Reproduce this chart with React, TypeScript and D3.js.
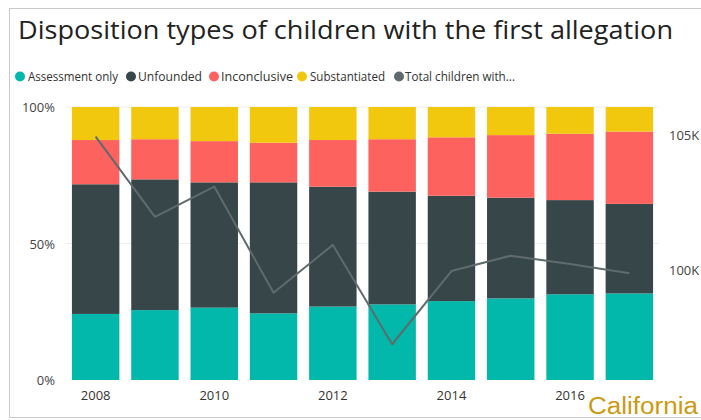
import React from "react";
import * as d3 from "d3";

const years = ["2008", "2009", "2010", "2011", "2012", "2013", "2014", "2015", "2016", "2017"];
const assessmentOnly = [24.2, 25.6, 26.5, 24.4, 26.9, 27.7, 28.9, 29.9, 31.4, 31.7];
const unfounded = [47.5, 47.9, 45.9, 48.0, 43.9, 41.3, 38.6, 36.9, 34.5, 32.8];
const inconclusive = [16.2, 14.7, 15.1, 14.5, 17.1, 19.2, 21.4, 22.9, 24.3, 26.5];
const substantiated = [12.1, 11.8, 12.5, 13.1, 12.1, 11.8, 11.1, 10.3, 9.8, 9.0];
const totalChildren = [104940, 101970, 103090, 99160, 100930, 97250, 99960, 100530, 100220, 99880];
const xTickLabels = ["2008", "2010", "2012", "2014", "2016"];
const leftTicks = [0, 50, 100];
const rightTicks = [100000, 105000];
const seriesNames = ["Assessment only", "Unfounded", "Inconclusive", "Substantiated"];
const lineName = "Total children with...";

const colors = ["#01B8AA", "#374649", "#FD625E", "#F2C80F"];
const lineColor = "#5F6B6D";

export default function App() {
  const W = 701, H = 420;
  const font = "'Open Sans', 'Segoe UI', sans-serif";
  const x = d3.scaleBand<string>().domain(years).range([66, 659]).paddingInner(0.2).paddingOuter(0.1);
  const y = d3.scaleLinear().domain([0, 100]).range([380, 107]);
  const yR = d3.scaleLinear().domain([100000, 105000]).range([270, 135]);

  const rows = years.map((yr, i) => ({
    year: yr,
    a: assessmentOnly[i],
    u: unfounded[i],
    n: inconclusive[i],
    s: substantiated[i],
  }));
  const stack = d3.stack<any>().keys(["a", "u", "n", "s"]);
  const layers = stack(rows);

  const line = d3
    .line<number>()
    .x((_, i) => (x(years[i]) as number) + x.bandwidth() / 2)
    .y((v) => yR(v));

  const legendItems = [
    { name: seriesNames[0], color: colors[0], cx: 20, tx: 28, w: 90 },
    { name: seriesNames[1], color: colors[1], cx: 131, tx: 138, w: 64 },
    { name: seriesNames[2], color: colors[2], cx: 214, tx: 221, w: 72 },
    { name: seriesNames[3], color: colors[3], cx: 302, tx: 310, w: 75 },
    { name: lineName, color: lineColor, cx: 399, tx: 405, w: 110 },
  ];

  return (
    <svg width={W} height={H} style={{ position: "absolute", left: 0, top: 0 }}>
      <rect x={0} y={0} width={W} height={H} fill="#fff" />
      {/* frame */}
      <path d={`M${W + 2},8.5 H9.5 V417.5 H${W + 2}`} fill="none" stroke="#c8c8c8" strokeWidth={1} />
      <text x={18} y={39} fontFamily={font} fontSize={26} fill="#222" textLength={655} lengthAdjust="spacingAndGlyphs">
        Disposition types of children with the first allegation
      </text>
      {legendItems.map((d) => (
        <g key={d.name}>
          <circle cx={d.cx} cy={76.5} r={5} fill={d.color} />
          <text x={d.tx} y={81} fontFamily={font} fontSize={13} fill="#333" textLength={d.w} lengthAdjust="spacingAndGlyphs">
            {d.name}
          </text>
        </g>
      ))}
      {/* gridlines */}
      {leftTicks.filter((t) => t > 0).map((t) => (
        <line key={t} x1={66} x2={659} y1={y(t)} y2={y(t)} stroke="#eeeeee" strokeWidth={1} />
      ))}
      {/* bars */}
      {layers.map((layer, li) => (
        <g key={li} fill={colors[li]}>
          {layer.map((d, i) => (
            <rect
              key={i}
              x={x(years[i])}
              width={x.bandwidth()}
              y={y(d[1])}
              height={y(d[0]) - y(d[1])}
            />
          ))}
        </g>
      ))}
      {/* line */}
      <path d={line(totalChildren) || ""} fill="none" stroke={lineColor} strokeWidth={2} strokeLinejoin="round" />
      {/* left axis */}
      {leftTicks.map((t) => (
        <text key={t} x={55} y={y(t) + 5} textAnchor="end" fontFamily={font} fontSize={13} fill="#444">
          {t}%
        </text>
      ))}
      {/* right axis */}
      {rightTicks.map((t) => (
        <text key={t} x={669} y={yR(t) + 5} fontFamily={font} fontSize={13} fill="#444">
          {d3.format(".0f")(t / 1000)}K
        </text>
      ))}
      {/* x axis */}
      {xTickLabels.map((t) => (
        <text key={t} x={(x(t) as number) + x.bandwidth() / 2} y={400} textAnchor="middle" fontFamily={font} fontSize={13} fill="#333">
          {t}
        </text>
      ))}
      <text x={588} y={414} fontFamily="'Liberation Sans', Arial, sans-serif" fontSize={23} fill="#CC9A12" textLength={110} lengthAdjust="spacingAndGlyphs">
        California
      </text>
    </svg>
  );
}
